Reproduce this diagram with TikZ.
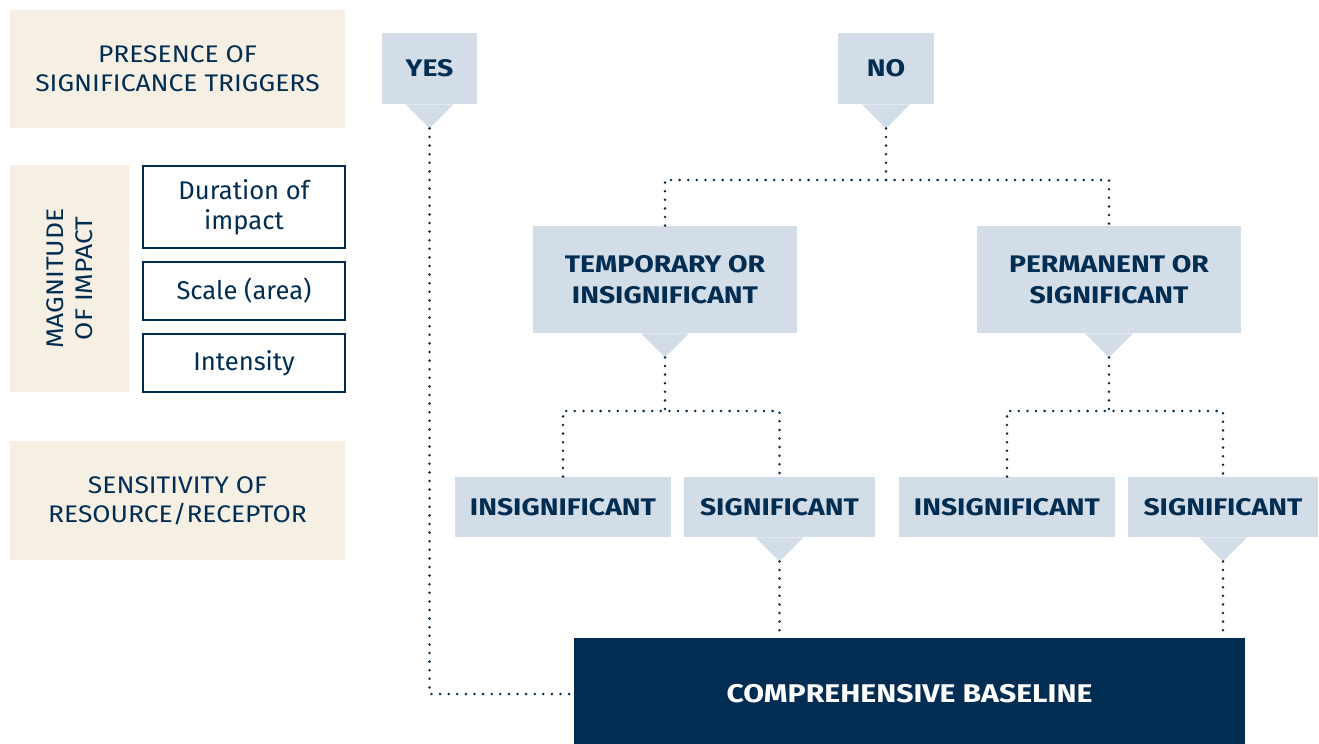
\documentclass[tikz,border=0pt]{standalone}
\usepackage{fontspec}
\setmainfont{Fira Sans}
\newfontfamily\capsfont[FakeStretch=1.1]{Fira Sans}
\newfontfamily\treefont[FakeStretch=1.18]{Fira Sans}
\usepackage{tikz}
\usetikzlibrary{positioning,calc}

\definecolor{navy}{HTML}{022D52}
\definecolor{beige}{HTML}{F5EFE4}
\definecolor{boxblue}{HTML}{D3DDE7}

\tikzset{
    side/.style={fill=beige, text=navy, align=center, inner sep=0pt,
        font={\capsfont\fontsize{12}{14.5}\selectfont}},
    factor/.style={draw=navy, line width=0.8pt, fill=white, text=navy, align=center,
        inner sep=0pt, minimum width=101pt, font={\fontsize{12.8}{15}\selectfont}},
    choice/.style={fill=boxblue, text=navy, align=center, inner sep=0pt,
        font={\treefont\bfseries\fontsize{12}{15.5}\selectfont}},
    link/.style={navy, line width=1.4pt, line cap=round, dash pattern=on 0pt off 4.3pt}
}

\begin{document}
\begin{tikzpicture}[x=0.5pt, y=-0.5pt]
    \useasboundingbox (0,0) rectangle (1319,744);

    % left column
    \node[side, minimum width=167.5pt, minimum height=59pt] (presence) at (177.5,69) {PRESENCE OF\\SIGNIFICANCE TRIGGERS};
    \node[side, minimum width=59.5pt, minimum height=113.5pt] (magnitude) at (69.5,278.5) {};
    \node[text=navy, align=center, rotate=90, font={\capsfont\fontsize{12}{14.5}\selectfont}] (maglabel) at (magnitude.center) {MAGNITUDE\\OF IMPACT};
    \node[factor, minimum height=41pt] (duration) at (244,207) {Duration of\\impact};
    \node[factor, minimum height=29pt] (scale) at (244,291) {Scale (area)};
    \node[factor, minimum height=29pt] (intensity) at (244,363) {Intensity};
    \node[side, minimum width=167.5pt, minimum height=59.5pt] (sensitivity) at (177.5,500.5) {SENSITIVITY OF\\RESOURCE/RECEPTOR};

    % decision tree
    \node[choice, minimum width=47.5pt, minimum height=35.5pt] (yes) at (429.5,68.5) {YES};
    \node[choice, minimum width=48pt, minimum height=35.5pt] (no) at (886,68.5) {NO};
    \node[choice, minimum width=132pt, minimum height=53.5pt] (temp) at (665,279.5) {TEMPORARY OR\\INSIGNIFICANT};
    \node[choice, minimum width=132pt, minimum height=53.5pt] (perm) at (1109,279.5) {PERMANENT OR\\SIGNIFICANT};
    \node[choice, minimum width=108pt, minimum height=30pt] (insigL) at (563,507) {INSIGNIFICANT};
    \node[choice, minimum width=95.5pt, minimum height=30pt] (sigL) at (779.5,507) {SIGNIFICANT};
    \node[choice, minimum width=108pt, minimum height=30pt] (insigR) at (1007,507) {INSIGNIFICANT};
    \node[choice, minimum width=95pt, minimum height=30pt] (sigR) at (1223,507) {SIGNIFICANT};
    \node[fill=navy, text=white, inner sep=0pt, minimum width=335.5pt, minimum height=56pt,
        font={\treefont\bfseries\fontsize{12.8}{15}\selectfont}] (base) at (909.5,694) {COMPREHENSIVE BASELINE};

    % pointers under the boxes
    \foreach \n in {yes,no,temp,perm,sigL,sigR}
        \fill[boxblue] ([xshift=-12pt]\n.south) -- ([xshift=12pt]\n.south)
            -- ([yshift=-12pt]\n.south) coordinate (\n-tip) -- cycle;

    % branch points
    \coordinate (split1) at (886,180);
    \coordinate (split2) at (665,411);
    \coordinate (split3) at (1109,411);

    \draw[link] (yes-tip) |- (base.west);
    \draw[link] (no-tip) -- (split1);
    \draw[link] (temp.north) |- (split1) -| (perm.north);
    \draw[link] (temp-tip) -- (split2);
    \draw[link] (insigL.north) |- (split2) -| (sigL.north);
    \draw[link] (perm-tip) -- (split3);
    \draw[link] (insigR.north) |- (split3) -| (sigR.north);
    \draw[link] (sigL-tip) -- (sigL-tip |- base.north);
    \draw[link] (sigR-tip) -- (sigR-tip |- base.north);
\end{tikzpicture}
\end{document}
